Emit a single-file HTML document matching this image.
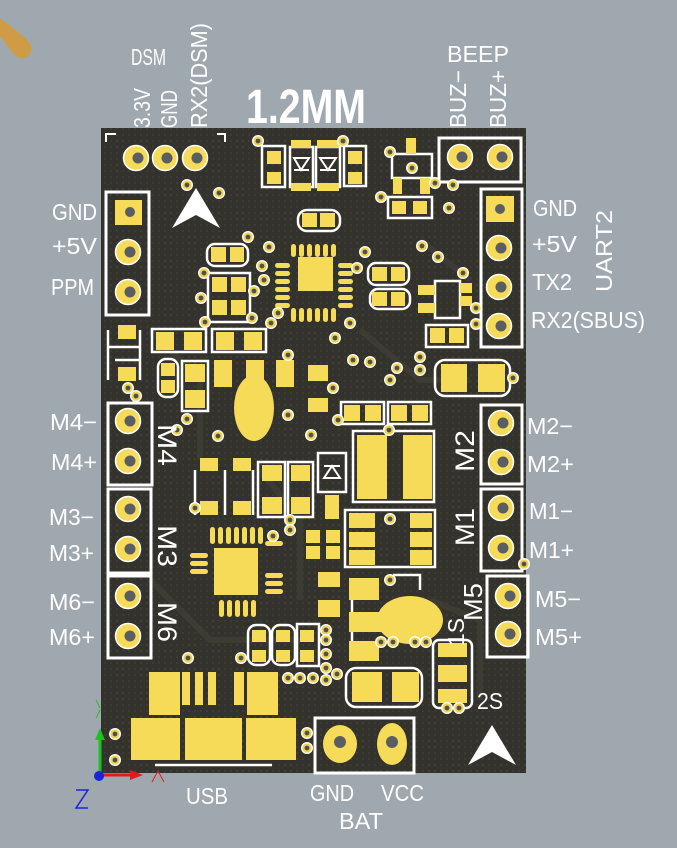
<!DOCTYPE html>
<html><head><meta charset="utf-8"><style>
html,body{margin:0;padding:0;background:#a0a8af;}
svg{display:block;}
.t{font-family:"Liberation Sans",sans-serif;fill:#fff;font-size:23px;}
</style></head><body>
<svg width="677" height="848" viewBox="0 0 677 848" xmlns="http://www.w3.org/2000/svg">
<defs>
<pattern id="dots" width="6" height="6" patternUnits="userSpaceOnUse">
<rect width="6" height="6" fill="#33322c"/><circle cx="3" cy="3" r="1.1" fill="#3e3d33"/>
</pattern>
<g id="tht"><circle r="12.5" fill="#f6db58" stroke="#fff" stroke-width="1.5"/><circle cx="2" cy="0" r="5.5" fill="#5a5e63"/></g>
<g id="via"><circle r="6" fill="#fff"/><circle r="4.6" fill="#f0d24e"/><circle r="2.4" fill="#4e5154"/></g>
</defs>
<rect width="677" height="848" fill="#a0a8af"/>
<path d="M0 18 L25 38 Q36 48 28 56 Q20 62 12 52 L0 36 Z" fill="#cf9b45"/>
<rect x="101" y="128" width="425" height="645" fill="url(#dots)"/>
<g fill="none" stroke="#3f3e36" stroke-width="6" opacity="0.8">
<path d="M150 330 L200 380 L200 460"/><path d="M360 330 L420 380 L470 380"/><path d="M260 470 L300 520 L300 600"/>
<path d="M420 240 L470 280"/><path d="M150 580 L210 640 L300 640"/><path d="M430 600 L480 620 L480 700"/>
</g>
<g stroke="#fff" stroke-width="2" fill="none">
<path d="M106 142 V134 H116"/><path d="M217 134 H225 V142"/>
</g>
<use href="#tht" x="136" y="158"/><use href="#tht" x="165" y="158"/><use href="#tht" x="195" y="158"/>
<path d="M196 188 L172 228 L196 215 L220 228 Z" fill="#fff"/>
<path d="M492 725 L468 765 L492 752 L516 765 Z" fill="#fff"/>
<g fill="none" stroke="#fff" stroke-width="3">
<rect x="106" y="192" width="43" height="123"/>
<rect x="439" y="138" width="82" height="44"/>
<rect x="481" y="189" width="41" height="158"/>
<rect x="108" y="403" width="44" height="82"/>
<rect x="108" y="489" width="43" height="84"/>
<rect x="108" y="576" width="43" height="82"/>
<rect x="481" y="405" width="41" height="79"/>
<rect x="481" y="489" width="41" height="82"/>
<rect x="487" y="576" width="41" height="81"/>
<rect x="315" y="718" width="99" height="55"/>
</g>
<rect x="115" y="200" width="27" height="25" fill="#f6db58"/><circle cx="130" cy="212" r="5" fill="#5a5e63"/>
<use href="#tht" x="128" y="252"/><use href="#tht" x="128" y="292"/>
<use href="#tht" x="460" y="157"/><use href="#tht" x="500" y="157"/>
<rect x="486" y="196" width="28" height="26" fill="#f6db58"/><circle cx="500" cy="209" r="5" fill="#5a5e63"/>
<use href="#tht" x="499" y="248"/><use href="#tht" x="499" y="287"/><use href="#tht" x="499" y="326"/>
<use href="#tht" x="128" y="421"/><use href="#tht" x="128" y="461"/>
<use href="#tht" x="128" y="509"/><use href="#tht" x="128" y="549"/>
<use href="#tht" x="128" y="596"/><use href="#tht" x="128" y="636"/>
<use href="#tht" x="501" y="423"/><use href="#tht" x="501" y="462"/>
<use href="#tht" x="501" y="508"/><use href="#tht" x="501" y="548"/>
<use href="#tht" x="508" y="596"/><use href="#tht" x="508" y="634"/>
<ellipse cx="340" cy="744" rx="17" ry="19" fill="#f6db58"/><circle cx="340" cy="742" r="6" fill="#5a5e63"/>
<ellipse cx="392" cy="744" rx="15" ry="21" fill="#f6db58"/><circle cx="392" cy="742" r="6" fill="#5a5e63"/>
<g fill="none" stroke="#fff" stroke-width="2.5">
<rect x="262" y="146" width="23" height="41"/><rect x="290" y="147" width="23" height="40"/><rect x="316" y="147" width="24" height="40"/><rect x="344" y="146" width="22" height="40"/>
<rect x="392" y="154" width="40" height="24"/><rect x="388" y="197" width="44" height="21"/>
<rect x="298" y="210" width="42" height="21" rx="9"/>
<rect x="207" y="244" width="41" height="22" rx="8"/><rect x="208" y="273" width="42" height="49"/>
<rect x="368" y="263" width="41" height="22" rx="8"/><rect x="370" y="289" width="40" height="20" rx="8"/>
<rect x="435" y="281" width="25" height="37"/><rect x="426" y="325" width="42" height="22"/>
<rect x="435" y="360" width="75" height="36" rx="10"/>
<rect x="152" y="329" width="54" height="23"/><rect x="212" y="329" width="54" height="23"/>
<rect x="158" y="359" width="20" height="38" rx="8"/><rect x="182" y="361" width="26" height="50"/>
<rect x="341" y="402" width="43" height="22"/><rect x="388" y="402" width="43" height="22"/>
<rect x="353" y="431" width="81" height="71"/><rect x="318" y="453" width="28" height="39"/>
<rect x="258" y="462" width="27" height="55"/><rect x="288" y="462" width="25" height="55"/>
<rect x="345" y="510" width="90" height="57"/>
<rect x="433" y="640" width="39" height="68" rx="6"/><rect x="346" y="668" width="76" height="39" rx="10"/>
<rect x="248" y="625" width="22" height="40" rx="8"/><rect x="272" y="625" width="23" height="40" rx="8"/><rect x="297" y="624" width="22" height="42"/>
<path d="M108 330 V380 M140 330 V380 M108 347 H140"/>
<path d="M195 470 V515 M253 470 V515 M225 470 V515"/>
<path d="M115 360 H140"/>
<path d="M352 580 V660 M393 575 H420 V590"/>
<path d="M155 765 H272"/>
</g>
<g fill="#f6db58">
<rect x="267" y="151" width="14" height="13"/><rect x="267" y="172" width="14" height="12"/>
<rect x="291" y="140" width="20" height="8"/><rect x="291" y="183" width="20" height="8"/>
<rect x="317" y="140" width="22" height="8"/><rect x="317" y="183" width="22" height="8"/>
<rect x="348" y="151" width="14" height="13"/><rect x="348" y="172" width="14" height="12"/>
<rect x="406" y="138" width="10" height="16"/><rect x="393" y="178" width="9" height="16"/><rect x="420" y="178" width="10" height="16"/>
<rect x="392" y="201" width="14" height="13"/><rect x="413" y="201" width="14" height="13"/>
<rect x="302" y="213" width="15" height="14"/><rect x="320" y="213" width="15" height="14"/>
<rect x="211" y="247" width="15" height="15"/><rect x="230" y="247" width="14" height="15"/>
<rect x="212" y="277" width="15" height="15"/><rect x="231" y="277" width="15" height="15"/>
<rect x="212" y="300" width="15" height="15"/><rect x="231" y="300" width="15" height="15"/>
<rect x="372" y="267" width="15" height="14"/><rect x="391" y="267" width="14" height="14"/>
<rect x="372" y="292" width="15" height="14"/><rect x="391" y="292" width="14" height="14"/>
<rect x="418" y="285" width="17" height="10"/><rect x="460" y="283" width="12" height="10"/><rect x="460" y="296" width="12" height="10"/><rect x="418" y="303" width="17" height="10"/>
<rect x="430" y="328" width="15" height="15"/><rect x="449" y="328" width="15" height="15"/>
<rect x="441" y="364" width="26" height="28"/><rect x="478" y="364" width="27" height="28"/>
<rect x="118" y="325" width="18" height="14"/><rect x="118" y="367" width="18" height="14"/>
<rect x="156" y="332" width="18" height="18"/><rect x="184" y="332" width="18" height="18"/>
<rect x="216" y="332" width="18" height="18"/><rect x="244" y="332" width="18" height="18"/>
<rect x="161" y="363" width="14" height="13"/><rect x="161" y="380" width="14" height="13"/>
<rect x="185" y="364" width="20" height="18"/><rect x="185" y="390" width="20" height="18"/>
<rect x="214" y="360" width="18" height="27"/><rect x="276" y="360" width="18" height="27"/>
<rect x="246" y="360" width="18" height="40"/><ellipse cx="254" cy="408" rx="20" ry="33"/>
<rect x="308" y="365" width="20" height="16"/><rect x="308" y="398" width="20" height="14"/>
<rect x="344" y="405" width="16" height="16"/><rect x="365" y="405" width="16" height="16"/>
<rect x="391" y="405" width="16" height="16"/><rect x="412" y="405" width="16" height="16"/>
<rect x="357" y="435" width="30" height="64"/><rect x="403" y="435" width="29" height="64"/>
<rect x="325" y="495" width="14" height="24"/>
<rect x="200" y="458" width="18" height="13"/><rect x="233" y="458" width="18" height="13"/>
<rect x="200" y="501" width="18" height="14"/><rect x="233" y="501" width="18" height="14"/>
<rect x="262" y="465" width="20" height="16"/><rect x="291" y="465" width="19" height="16"/>
<rect x="262" y="497" width="20" height="17"/><rect x="291" y="497" width="19" height="17"/>
<rect x="306" y="530" width="14" height="13"/><rect x="326" y="530" width="14" height="13"/>
<rect x="306" y="546" width="14" height="13"/><rect x="326" y="546" width="14" height="13"/>
<rect x="349" y="513" width="26" height="15"/><rect x="349" y="532" width="26" height="15"/><rect x="349" y="550" width="26" height="15"/>
<rect x="410" y="513" width="22" height="15"/><rect x="410" y="532" width="22" height="15"/><rect x="410" y="550" width="22" height="15"/>
<rect x="318" y="572" width="22" height="15"/><rect x="318" y="600" width="22" height="17"/>
<rect x="349" y="578" width="30" height="22"/><rect x="349" y="612" width="45" height="20"/><ellipse cx="410" cy="620" rx="33" ry="24"/><rect x="349" y="641" width="30" height="20"/>
<rect x="438" y="643" width="29" height="14"/><rect x="438" y="665" width="29" height="17"/><rect x="438" y="689" width="29" height="14"/>
<rect x="352" y="672" width="30" height="30"/><rect x="392" y="672" width="27" height="30"/>
<rect x="252" y="630" width="14" height="12"/><rect x="252" y="650" width="14" height="12"/>
<rect x="276" y="630" width="14" height="12"/><rect x="276" y="650" width="14" height="12"/>
<rect x="300" y="630" width="14" height="12"/><rect x="300" y="650" width="14" height="12"/>
<rect x="298" y="257" width="35" height="34"/>
<rect x="214" y="548" width="44" height="47"/>
<rect x="149" y="672" width="31" height="43"/><rect x="182" y="672" width="8" height="33"/><rect x="195" y="672" width="8" height="33"/><rect x="208" y="672" width="8" height="33"/><rect x="234" y="672" width="10" height="33"/><rect x="247" y="672" width="31" height="43"/>
<rect x="131" y="718" width="49" height="42"/><rect x="185" y="718" width="57" height="42"/><rect x="246" y="718" width="50" height="42"/>
</g>
<g fill="#f6db58">
<rect x="291" y="244" width="5" height="13" rx="2.5"/><rect x="299" y="244" width="5" height="13" rx="2.5"/><rect x="307" y="244" width="5" height="13" rx="2.5"/><rect x="315" y="244" width="5" height="13" rx="2.5"/><rect x="323" y="244" width="5" height="13" rx="2.5"/><rect x="331" y="244" width="5" height="13" rx="2.5"/>
<rect x="291" y="308" width="5" height="14" rx="2.5"/><rect x="299" y="308" width="5" height="14" rx="2.5"/><rect x="307" y="308" width="5" height="14" rx="2.5"/><rect x="315" y="308" width="5" height="14" rx="2.5"/><rect x="323" y="308" width="5" height="14" rx="2.5"/><rect x="331" y="308" width="5" height="14" rx="2.5"/>
<rect x="275" y="263" width="15" height="5" rx="2.5"/><rect x="275" y="271" width="15" height="5" rx="2.5"/><rect x="275" y="279" width="15" height="5" rx="2.5"/><rect x="275" y="287" width="15" height="5" rx="2.5"/><rect x="275" y="295" width="15" height="5" rx="2.5"/><rect x="275" y="303" width="15" height="5" rx="2.5"/>
<rect x="338" y="263" width="15" height="5" rx="2.5"/><rect x="338" y="271" width="15" height="5" rx="2.5"/><rect x="338" y="279" width="15" height="5" rx="2.5"/><rect x="338" y="287" width="15" height="5" rx="2.5"/><rect x="338" y="295" width="15" height="5" rx="2.5"/><rect x="338" y="303" width="15" height="5" rx="2.5"/>
<rect x="210" y="527" width="5" height="17" rx="2.5"/><rect x="218" y="527" width="5" height="17" rx="2.5"/><rect x="226" y="527" width="5" height="17" rx="2.5"/><rect x="234" y="527" width="5" height="17" rx="2.5"/><rect x="242" y="527" width="5" height="17" rx="2.5"/><rect x="250" y="527" width="5" height="17" rx="2.5"/><rect x="258" y="527" width="5" height="17" rx="2.5"/>
<rect x="219" y="600" width="5" height="17" rx="2.5"/><rect x="227" y="600" width="5" height="17" rx="2.5"/><rect x="235" y="600" width="5" height="17" rx="2.5"/><rect x="243" y="600" width="5" height="17" rx="2.5"/><rect x="251" y="600" width="5" height="17" rx="2.5"/>
<rect x="190" y="553" width="18" height="5" rx="2.5"/><rect x="190" y="561" width="18" height="5" rx="2.5"/><rect x="190" y="569" width="18" height="5" rx="2.5"/>
<rect x="265" y="573" width="18" height="5" rx="2.5"/><rect x="265" y="581" width="18" height="5" rx="2.5"/><rect x="265" y="589" width="18" height="5" rx="2.5"/>
<rect x="265" y="541" width="18" height="5" rx="2.5"/>
</g>
<g fill="none" stroke="#fff" stroke-width="2">
<path d="M294 158 H309 L301 170 Z M294 170 H309"/><path d="M320 158 H336 L328 170 Z M320 170 H336"/>
<path d="M324 478 H340 L332 466 Z M324 466 H340"/>
</g>
<g>
<use href="#via" x="258" y="141"/><use href="#via" x="343" y="141"/><use href="#via" x="187" y="185"/><use href="#via" x="219" y="193"/>
<use href="#via" x="390" y="152"/><use href="#via" x="412" y="168"/><use href="#via" x="435" y="183"/><use href="#via" x="453" y="185"/><use href="#via" x="381" y="197"/><use href="#via" x="449" y="208"/>
<use href="#via" x="248" y="237"/><use href="#via" x="269" y="247"/><use href="#via" x="262" y="266"/><use href="#via" x="204" y="273"/><use href="#via" x="264" y="280"/><use href="#via" x="254" y="291"/><use href="#via" x="201" y="298"/><use href="#via" x="252" y="318"/><use href="#via" x="205" y="322"/>
<use href="#via" x="271" y="323"/><use href="#via" x="278" y="313"/><use href="#via" x="350" y="323"/><use href="#via" x="335" y="338"/><use href="#via" x="357" y="268"/><use href="#via" x="365" y="252"/><use href="#via" x="422" y="246"/><use href="#via" x="438" y="257"/><use href="#via" x="463" y="273"/><use href="#via" x="476" y="308"/><use href="#via" x="476" y="324"/>
<use href="#via" x="288" y="355"/><use href="#via" x="353" y="360"/><use href="#via" x="370" y="362"/><use href="#via" x="397" y="368"/><use href="#via" x="390" y="380"/><use href="#via" x="420" y="357"/><use href="#via" x="420" y="370"/>
<use href="#via" x="128" y="388"/><use href="#via" x="136" y="396"/><use href="#via" x="177" y="430"/><use href="#via" x="187" y="419"/><use href="#via" x="218" y="436"/><use href="#via" x="288" y="415"/><use href="#via" x="311" y="435"/><use href="#via" x="333" y="388"/><use href="#via" x="338" y="420"/>
<use href="#via" x="389" y="430"/><use href="#via" x="195" y="508"/><use href="#via" x="290" y="520"/><use href="#via" x="290" y="530"/><use href="#via" x="273" y="536"/><use href="#via" x="390" y="519"/>
<use href="#via" x="390" y="580"/><use href="#via" x="381" y="642"/><use href="#via" x="393" y="642"/><use href="#via" x="415" y="642"/><use href="#via" x="426" y="642"/>
<use href="#via" x="188" y="658"/><use href="#via" x="241" y="658"/><use href="#via" x="326" y="630"/><use href="#via" x="326" y="640"/><use href="#via" x="326" y="654"/><use href="#via" x="326" y="668"/>
<use href="#via" x="288" y="678"/><use href="#via" x="300" y="678"/><use href="#via" x="313" y="678"/><use href="#via" x="326" y="680"/><use href="#via" x="337" y="674"/>
<use href="#via" x="447" y="708"/><use href="#via" x="459" y="708"/>
<use href="#via" x="115" y="734"/><use href="#via" x="115" y="760"/><use href="#via" x="307" y="733"/><use href="#via" x="307" y="748"/>
<use href="#via" x="513" y="378"/><use href="#via" x="524" y="564"/>
</g>
<line x1="100" y1="775" x2="100" y2="735" stroke="#19c41f" stroke-width="3"/><path d="M95 740 L100 728 L105 740 Z" fill="#19c41f"/>
<line x1="100" y1="775" x2="135" y2="775" stroke="#e21a1a" stroke-width="3"/><path d="M130 770 L143 775 L130 780 Z" fill="#e21a1a"/>
<circle cx="99" cy="776" r="5" fill="#1a24d6"/>
<path d="M152 782 L158 771 L164 782" fill="none" stroke="#e21a1a" stroke-width="1"/>
<path d="M96 700 L100 708 M96 718 L100 710" stroke="#19c41f" stroke-width="1"/>
<path d="M76 790 H88 L76 808 H88" fill="none" stroke="#1a24d6" stroke-width="1.5"/>
<text class="t" x="131" y="65" textLength="35" lengthAdjust="spacingAndGlyphs">DSM</text>
<text class="t" transform="translate(150 128) rotate(-90)" textLength="40" lengthAdjust="spacingAndGlyphs">3.3V</text>
<text class="t" transform="translate(177 128) rotate(-90)" textLength="38" lengthAdjust="spacingAndGlyphs">GND</text>
<text class="t" transform="translate(207 128) rotate(-90)" textLength="105" lengthAdjust="spacingAndGlyphs">RX2(DSM)</text>
<text class="t" x="246" y="123" style="font-size:48px;font-weight:bold" textLength="120" lengthAdjust="spacingAndGlyphs">1.2MM</text>
<text class="t" x="447" y="62" textLength="62" lengthAdjust="spacingAndGlyphs">BEEP</text>
<text class="t" transform="translate(466 128) rotate(-90)" textLength="58" lengthAdjust="spacingAndGlyphs">BUZ−</text>
<text class="t" transform="translate(506 128) rotate(-90)" textLength="58" lengthAdjust="spacingAndGlyphs">BUZ+</text>
<text class="t" x="52" y="220" textLength="45" lengthAdjust="spacingAndGlyphs">GND</text>
<text class="t" x="52" y="254" textLength="45" lengthAdjust="spacingAndGlyphs">+5V</text>
<text class="t" x="51" y="295" textLength="43" lengthAdjust="spacingAndGlyphs">PPM</text>
<text class="t" x="533" y="216" textLength="44" lengthAdjust="spacingAndGlyphs">GND</text>
<text class="t" x="532" y="252" textLength="45" lengthAdjust="spacingAndGlyphs">+5V</text>
<text class="t" x="532" y="290" textLength="40" lengthAdjust="spacingAndGlyphs">TX2</text>
<text class="t" x="531" y="328" textLength="114" lengthAdjust="spacingAndGlyphs">RX2(SBUS)</text>
<text class="t" transform="translate(612 292) rotate(-90)" textLength="82" lengthAdjust="spacingAndGlyphs">UART2</text>
<text class="t" x="50" y="430" textLength="47" lengthAdjust="spacingAndGlyphs">M4−</text>
<text class="t" x="51" y="470" textLength="46" lengthAdjust="spacingAndGlyphs">M4+</text>
<text class="t" x="49" y="525" textLength="45" lengthAdjust="spacingAndGlyphs">M3−</text>
<text class="t" x="49" y="561" textLength="45" lengthAdjust="spacingAndGlyphs">M3+</text>
<text class="t" x="49" y="610" textLength="46" lengthAdjust="spacingAndGlyphs">M6−</text>
<text class="t" x="49" y="645" textLength="46" lengthAdjust="spacingAndGlyphs">M6+</text>
<text class="t" x="527" y="434" textLength="46" lengthAdjust="spacingAndGlyphs">M2−</text>
<text class="t" x="527" y="472" textLength="47" lengthAdjust="spacingAndGlyphs">M2+</text>
<text class="t" x="529" y="519" textLength="44" lengthAdjust="spacingAndGlyphs">M1−</text>
<text class="t" x="529" y="558" textLength="45" lengthAdjust="spacingAndGlyphs">M1+</text>
<text class="t" x="535" y="607" textLength="46" lengthAdjust="spacingAndGlyphs">M5−</text>
<text class="t" x="535" y="645" textLength="47" lengthAdjust="spacingAndGlyphs">M5+</text>
<text class="t" transform="translate(158 424) rotate(90)" style="font-size:27px" textLength="42" lengthAdjust="spacingAndGlyphs">M4</text>
<text class="t" transform="translate(158 525) rotate(90)" style="font-size:27px" textLength="42" lengthAdjust="spacingAndGlyphs">M3</text>
<text class="t" transform="translate(158 602) rotate(90)" style="font-size:27px" textLength="40" lengthAdjust="spacingAndGlyphs">M6</text>
<text class="t" transform="translate(474 472) rotate(-90)" style="font-size:27px" textLength="42" lengthAdjust="spacingAndGlyphs">M2</text>
<text class="t" transform="translate(474 546) rotate(-90)" style="font-size:27px" textLength="38" lengthAdjust="spacingAndGlyphs">M1</text>
<text class="t" transform="translate(482 621) rotate(-90)" style="font-size:26px" textLength="38" lengthAdjust="spacingAndGlyphs">M5</text>
<text class="t" transform="translate(464 646) rotate(-90)" textLength="28" lengthAdjust="spacingAndGlyphs">1S</text>
<text class="t" x="477" y="709" textLength="26" lengthAdjust="spacingAndGlyphs">2S</text>
<text class="t" x="186" y="804" textLength="42" lengthAdjust="spacingAndGlyphs">USB</text>
<text class="t" x="310" y="801" textLength="44" lengthAdjust="spacingAndGlyphs">GND</text>
<text class="t" x="381" y="801" textLength="43" lengthAdjust="spacingAndGlyphs">VCC</text>
<text class="t" x="339" y="829" textLength="44" lengthAdjust="spacingAndGlyphs">BAT</text>
</svg>
</body></html>
